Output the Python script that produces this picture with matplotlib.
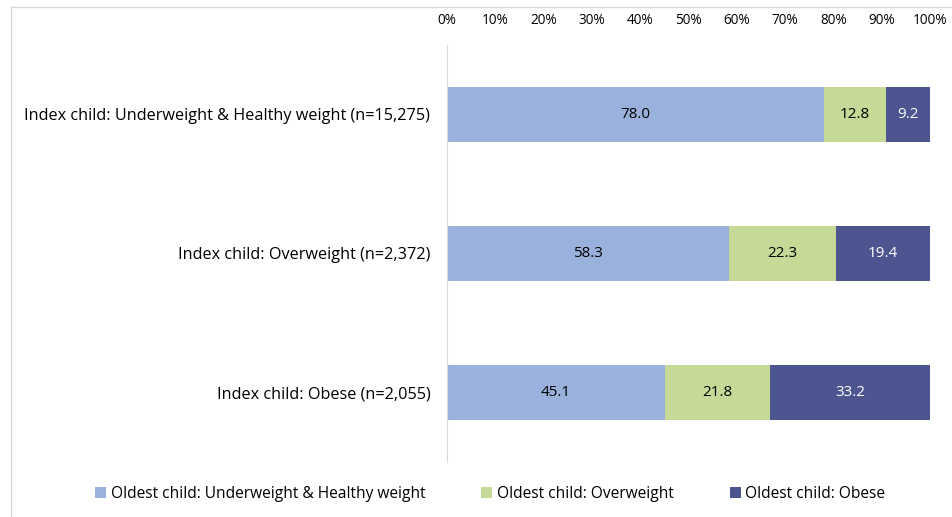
import matplotlib.pyplot as plt
import numpy as np

categories = ['Index child: Underweight & Healthy weight (n=15,275)',
              'Index child: Overweight (n=2,372)',
              'Index child: Obese (n=2,055)']
series = ['Oldest child: Underweight & Healthy weight',
          'Oldest child: Overweight',
          'Oldest child: Obese']
healthy = [78.0, 58.3, 45.1]
overweight = [12.8, 22.3, 21.8]
obese = [9.2, 19.4, 33.2]

colors = ['#99b1dc', '#c5da96', '#4c5590']
text_colors = ['black', 'black', 'white']

plt.rcParams['font.family'] = ['Open Sans', 'DejaVu Sans']

fig = plt.figure(figsize=(9.52, 5.17), dpi=100)
ax = fig.add_axes([0.4695, 0.1064, 0.5074, 0.8066])

y = np.arange(len(categories))
left = np.zeros(len(categories))
for vals, name, c, tc in zip([healthy, overweight, obese], series, colors, text_colors):
    bars = ax.barh(y, vals, left=left, height=0.4, color=c, label=name)
    for bar, v in zip(bars, vals):
        ax.text(bar.get_x() + bar.get_width() / 2, bar.get_y() + bar.get_height() / 2,
                f'{v:.1f}', ha='center', va='center', fontsize=11, color=tc)
    left += np.array(vals)

ax.set_xlim(0, 100)
ax.set_ylim(2.5, -0.5)
ax.set_yticks(y)
ax.set_yticklabels(categories, fontsize=11.7)
ax.set_xticks(np.arange(0, 101, 10))
ax.set_xticklabels([f'{t}%' for t in range(0, 101, 10)], fontsize=9.8)
ax.xaxis.tick_top()
ax.tick_params(length=0)
ax.tick_params(axis='y', pad=12)
ax.tick_params(axis='x', pad=12)
for s in ['top', 'right', 'bottom']:
    ax.spines[s].set_visible(False)
ax.spines['left'].set_color('#d9d9d9')

handles, labels = ax.get_legend_handles_labels()
fig.legend(handles, labels, loc='center', bbox_to_anchor=(0.515, 0.044), ncol=3,
           frameon=False, fontsize=11.2, handlelength=0.7, handleheight=0.7,
           columnspacing=3.6, handletextpad=0.3)

# outer chart border (top and left visible)
fig.add_artist(plt.Line2D([11 / 952, 1], [1 - 7 / 517, 1 - 7 / 517], color='#d9d9d9', lw=1))
fig.add_artist(plt.Line2D([11 / 952, 11 / 952], [0, 1 - 7 / 517], color='#d9d9d9', lw=1))

fig.savefig('out.png', dpi=100)
